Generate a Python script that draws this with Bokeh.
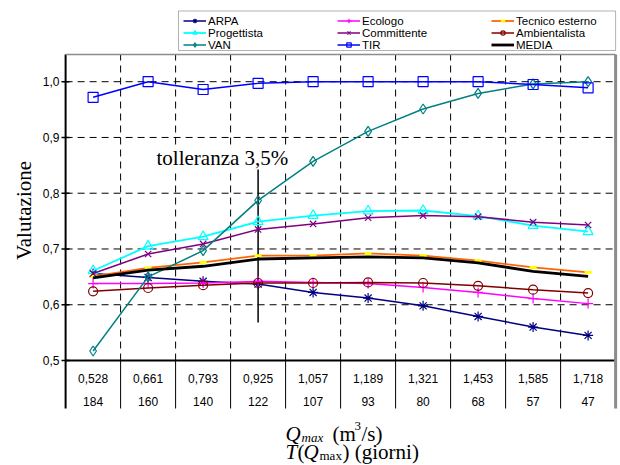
import math
from bokeh.plotting import figure
from bokeh.models import Range1d, Legend, LegendItem, Label, BoxAnnotation
from bokeh.core.properties import value
from bokeh.embed import file_html
from bokeh.resources import INLINE

# ---------------- data ----------------
q_labels = ["0,528", "0,661", "0,793", "0,925", "1,057", "1,189", "1,321", "1,453", "1,585", "1,718"]
t_labels = ["184", "160", "140", "122", "107", "93", "80", "68", "57", "47"]

arpa          = [0.656, 0.649, 0.642, 0.637, 0.622, 0.612, 0.598, 0.579, 0.560, 0.545]
ecologo       = [0.638, 0.638, 0.639, 0.642, 0.640, 0.638, 0.631, 0.622, 0.611, 0.602]
tecnico       = [0.651, 0.666, 0.676, 0.688, 0.688, 0.692, 0.688, 0.679, 0.667, 0.658]
progettista   = [0.661, 0.705, 0.722, 0.749, 0.760, 0.768, 0.769, 0.759, 0.742, 0.731]
committente   = [0.656, 0.691, 0.709, 0.735, 0.745, 0.756, 0.760, 0.758, 0.748, 0.743]
ambientalista = [0.624, 0.630, 0.635, 0.639, 0.639, 0.640, 0.639, 0.634, 0.627, 0.621]
van           = [0.517, 0.650, 0.697, 0.787, 0.857, 0.911, 0.951, 0.979, 0.996, 1.000]
tir           = [0.972, 1.000, 0.986, 0.997, 1.000, 1.000, 1.000, 1.000, 0.995, 0.989]
media         = [0.648, 0.662, 0.669, 0.682, 0.684, 0.686, 0.684, 0.675, 0.660, 0.651]

yticks = [0.5, 0.6, 0.7, 0.8, 0.9, 1.0]
ytick_labels = [f"{v:.1f}".replace(".", ",") for v in yticks]
tol_category = "0,925"
tol_low, tol_high = 0.568, 0.849
tol_text = "tolleranza 3,5%"

# ---------------- layout helpers (page pixel -> data) ----------------
W, H = 620, 465
X0, PX = 65.1, 55.0          # page x of category-axis origin, px per category
Y05, K = 360.0, 557.6        # page y of value 0.5, px per unit


def dx(px):
    return (px - X0) / PX


def dy(py):
    return 0.5 - (py - Y05) / K


n = len(q_labels)
xs = [i + 0.5 for i in range(n)]
bounds = list(range(1, n))
y_plot_top = dy(54)
y_table_bot = dy(408)

p = figure(width=W, height=H, output_backend="svg", toolbar_location=None,
           x_axis_location=None, y_axis_location=None,
           x_range=Range1d(dx(0), dx(W)), y_range=Range1d(dy(H), dy(0)),
           min_border_left=0, min_border_right=0, min_border_top=0, min_border_bottom=0)
p.outline_line_color = None
p.background_fill_color = "white"
p.border_fill_color = "white"
p.xgrid.grid_line_color = None
p.ygrid.grid_line_color = None

# horizontal dashed grid
gy = yticks[1:]
p.segment(x0=[0] * len(gy), y0=gy, x1=[n] * len(gy), y1=gy,
          line_color="black", line_dash="7 5", line_width=1)
# vertical dashed grid in plot, solid separators in the table
p.segment(x0=bounds, y0=[0.5] * len(bounds), x1=bounds, y1=[y_plot_top] * len(bounds),
          line_color="black", line_dash="7 5", line_width=1)
p.segment(x0=bounds, y0=[y_table_bot] * len(bounds), x1=bounds, y1=[0.5] * len(bounds),
          line_color="black", line_width=1)
# frame lines
p.segment(x0=[0], y0=[y_table_bot], x1=[0], y1=[y_plot_top], line_color="black", line_width=2)
p.segment(x0=[0], y0=[0.5], x1=[n], y1=[0.5], line_color="black", line_width=2.2)
p.segment(x0=[n], y0=[y_table_bot], x1=[n], y1=[y_plot_top], line_color="#8c8c8c", line_width=3)
p.segment(x0=[0], y0=[y_plot_top], x1=[n], y1=[y_plot_top], line_color="#8c8c8c", line_width=1.5)

# y ticks and tick labels
p.segment(x0=[dx(61)] * len(yticks), y0=yticks, x1=[dx(69)] * len(yticks), y1=yticks,
          line_color="black", line_width=1.5)
p.text(x=[dx(59)] * len(yticks), y=yticks, text=ytick_labels, text_align="right",
       text_baseline="middle", text_font=value("Liberation Sans"), text_font_size="12px",
       text_color="black")

# table labels
p.text(x=xs, y=[dy(378)] * n, text=q_labels, text_align="center", text_baseline="middle",
       text_font=value("Liberation Sans"), text_font_size="12px", text_color="black")
p.text(x=xs, y=[dy(401)] * n, text=t_labels, text_align="center", text_baseline="middle",
       text_font=value("Liberation Sans"), text_font_size="12px", text_color="black")

# tolerance line
tol_x = q_labels.index(tol_category) + 0.5
p.segment(x0=[tol_x], y0=[tol_low], x1=[tol_x], y1=[tol_high], line_color="black", line_width=1.5)

# ---------------- series ----------------
series = [
    ("ARPA", arpa, "#000080", "asterisk", 10, None, 1.5),
    ("Ecologo", ecologo, "#FF00FF", "cross", 10, None, 1.5),
    ("Tecnico esterno", tecnico, "#FF6600", "dash", 7, "#FFFF00", 1.8),
    ("Progettista", progettista, "#00FFFF", "triangle", 10, None, 1.8),
    ("Committente", committente, "#800080", "x", 9, None, 1.5),
    ("Ambientalista", ambientalista, "#800000", "circle", 9, None, 1.5),
    ("VAN", van, "#008080", "diamond", 10, None, 1.5),
    ("TIR", tir, "#0000FF", "square", 10, None, 1.5),
    ("MEDIA", media, "#000000", None, 0, None, 2.8),
]

renderers = {}
for name, vals, color, marker, size, mcolor, lw in series:
    rl = p.line(xs, vals, line_color=color, line_width=lw)
    rs = []
    if marker is not None:
        mc = mcolor or color
        if marker == "dash":
            r = p.scatter(xs, vals, marker="dash", size=size, line_color=mc, line_width=3)
        else:
            r = p.scatter(xs, vals, marker=marker, size=size, line_color=mc, fill_alpha=0,
                          line_width=1.2)
        rs.append(r)
    renderers[name] = [rl] + rs

# ---------------- legend ----------------
box = BoxAnnotation(left=dx(178), right=n, top=dy(10.5), bottom=dy(50),
                    fill_color="white", fill_alpha=1, line_color="black", line_width=1)
p.add_layout(box)

columns = [["ARPA", "Progettista", "VAN"],
           ["Ecologo", "Committente", "TIR"],
           ["Tecnico esterno", "Ambientalista", "MEDIA"]]
col_px = [183, 337, 491]
leg_top, row_h = 16.25, 11.5
for names, cx in zip(columns, col_px):
    items = [LegendItem(label=nm, renderers=renderers[nm]) for nm in names]
    leg = Legend(items=items,
                 location=(cx, H - (leg_top + 3 * row_h)),
                 orientation="vertical", padding=0, margin=0, spacing=0,
                 glyph_width=23, glyph_height=int(row_h), label_height=int(row_h),
                 label_standoff=2, border_line_alpha=0, background_fill_alpha=0,
                 label_text_font="Liberation Sans", label_text_font_size="11.5px",
                 label_text_color="black", label_text_baseline="middle")
    p.add_layout(leg)


# ---------------- texts ----------------
def lab(text, px, py, size, style="normal", **kw):
    p.add_layout(Label(x=dx(px), y=dy(py), text=text, text_font="Liberation Serif",
                       text_font_size=size, text_font_style=style, text_color="black",
                       text_baseline=kw.pop("baseline", "alphabetic"), **kw))


lab(tol_text, 156, 157, "21px", background_fill_color="white", background_fill_alpha=1)

# y axis title
lab("Valutazione", 23, 210, "21px", angle=math.pi / 2, text_align="center", baseline="middle")

# x axis titles
lab("Q", 285, 433, "21px", "italic")
lab("max", 301, 437, "13px", "italic")
lab("(m", 332, 433, "21px")
lab("3", 354, 425, "13px")
lab("/s)", 361, 433, "21px")

lab("T", 285, 451, "21px", "italic")
lab("(", 297, 451, "21px")
lab("Q", 303, 451, "21px", "italic")
lab("max", 319, 455, "13px")
lab(") (giorni)", 342, 451, "21px")

open("out.html", "w").write(file_html(p, INLINE))
